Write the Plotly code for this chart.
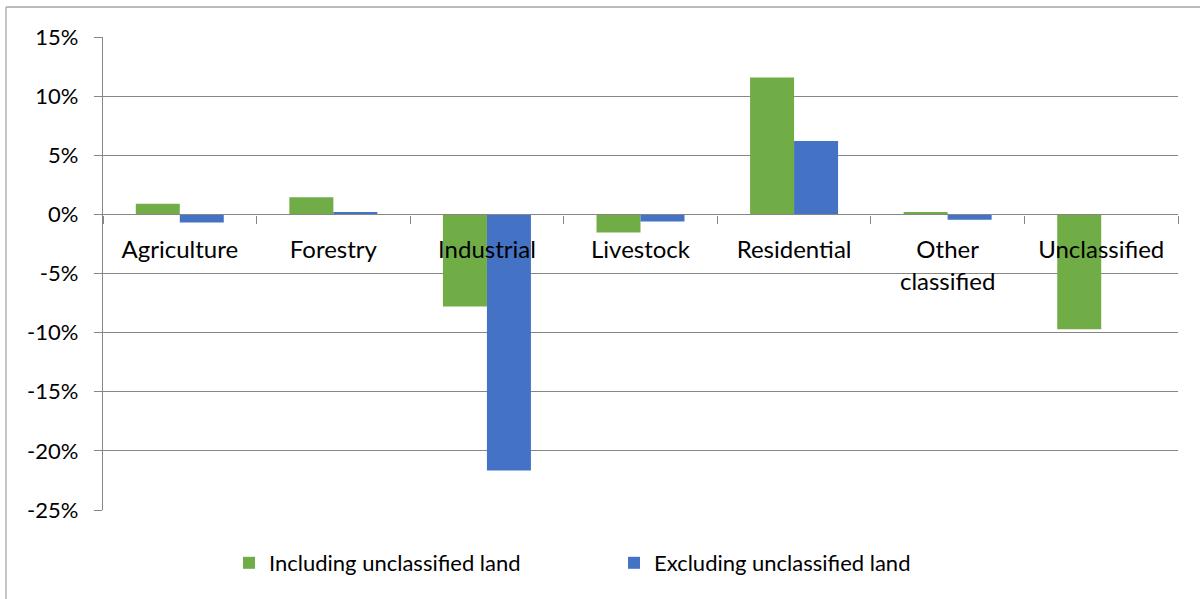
import plotly.graph_objects as go

categories = ["Agriculture", "Forestry", "Industrial", "Livestock", "Residential",
              "Other<br>classified", "Unclassified"]
including = [0.89, 1.45, -7.79, -1.54, 11.57, 0.2, -9.71]
excluding = [-0.69, 0.2, -21.66, -0.61, 6.21, -0.46, None]
y_tickvals = [15, 10, 5, 0, -5, -10, -15, -20, -25]
y_ticktext = ["15%", "10%", "5%", "0%", "-5%", "-10%", "-15%", "-20%", "-25%"]

FONT = "Lato"
W, H = 1200, 599
L, R, T, B = 103, 22, 37, 89
pw, ph = W - L - R, H - T - B

fig = go.Figure()
fig.add_trace(go.Bar(x=categories, y=including, name="Including unclassified land",
                     marker=dict(color="#70AD47", line=dict(width=0))))
fig.add_trace(go.Bar(x=categories, y=excluding, name="Excluding unclassified land",
                     marker=dict(color="#4472C4", line=dict(width=0))))

ymin, ymax = -25, 15
zero_pos = (0 - ymin) / (ymax - ymin)

def px_x(x):
    return (x - L) / pw

def px_y(y):
    return (H - B - y) / ph

fig.update_layout(
    width=W, height=H,
    margin=dict(l=L, r=R, t=T, b=B),
    paper_bgcolor="white", plot_bgcolor="white",
    barmode="group", bargap=0.427, bargroupgap=0,
    font=dict(family=FONT, size=22, color="#000000"),
    showlegend=True,
    legend=dict(orientation="h", x=px_x(614), xanchor="center",
                y=px_y(563), yanchor="middle",
                entrywidth=340,
                font=dict(family=FONT, size=22, color="#000000"),
                bgcolor="rgba(0,0,0,0)"),
    xaxis=dict(type="category", anchor="free", position=zero_pos,
               showline=True, linecolor="#868686", linewidth=1.3,
               ticks="outside", tickson="boundaries", ticklen=8,
               tickcolor="#868686", showgrid=False,
               tickfont=dict(family=FONT, size=24, color="#000000"),
               ticklabelstandoff=14),
    yaxis=dict(range=[ymin, ymax], tickvals=y_tickvals, ticktext=y_ticktext,
               showgrid=True, gridcolor="#868686", gridwidth=1.3,
               showline=True, linecolor="#868686", linewidth=1.3,
               ticks="outside", ticklen=8, tickcolor="#868686",
               zeroline=False,
               tickfont=dict(family=FONT, size=22, color="#000000"),
               ticklabelstandoff=11),
)

# chart-area border (top and left edges visible in the picture)
fig.add_shape(type="line", xref="paper", yref="paper",
              x0=px_x(6), x1=px_x(1205), y0=px_y(7), y1=px_y(7),
              line=dict(color="#a6a6a6", width=1.3))
fig.add_shape(type="line", xref="paper", yref="paper",
              x0=px_x(6), x1=px_x(6), y0=px_y(7), y1=px_y(605),
              line=dict(color="#a6a6a6", width=1.3))

fig.write_html("out.html", config={"displayModeBar": False},
               post_script="document.body.style.margin='0';document.body.style.overflow='hidden';")
